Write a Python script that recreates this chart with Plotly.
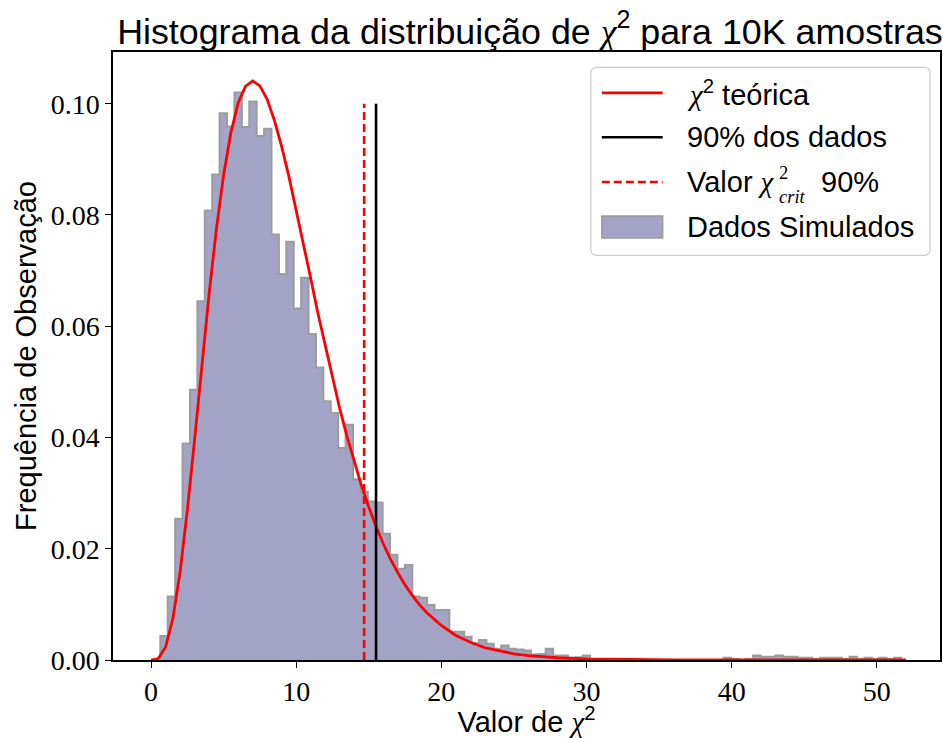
import plotly.graph_objects as go

# Simulated chi-square statistics: density-normalised histogram, 100 equal bins
bin_start = 0.64
bin_width = 0.5105
hist_density = [
    0.0043, 0.0114, 0.0254, 0.0389, 0.0486, 0.0645, 0.0808, 0.0873, 0.0983, 0.0959,
    0.1020, 0.0958, 0.1004, 0.0942, 0.0955, 0.0765, 0.0694, 0.0752, 0.0632, 0.0687,
    0.0586, 0.0526, 0.0465, 0.0444, 0.0381, 0.0423, 0.0325, 0.0302, 0.0285, 0.0283,
    0.0227, 0.0189, 0.0164, 0.0171, 0.0114, 0.0112, 0.0099, 0.0090, 0.0090, 0.0051,
    0.0051, 0.0042, 0.0030, 0.0036, 0.0029, 0.0020, 0.0026, 0.0020, 0.0019, 0.0017,
    0.0010, 0.0011, 0.0020, 0.0008, 0.0008, 0.0004, 0.0005, 0.0008, 0.0002, 0.0002,
    0.0000, 0.0002, 0.0000, 0.0000, 0.0000, 0.0000, 0.0000, 0.0000, 0.0000, 0.0000,
    0.0000, 0.0000, 0.0000, 0.0000, 0.0000, 0.0000, 0.0004, 0.0002, 0.0000, 0.0002,
    0.0008, 0.0006, 0.0006, 0.0008, 0.0006, 0.0006, 0.0004, 0.0004, 0.0002, 0.0004,
    0.0004, 0.0004, 0.0002, 0.0006, 0.0002, 0.0004, 0.0002, 0.0004, 0.0002, 0.0004,
]

# Theoretical chi-square density curve
curve_x = [0, 0.5, 1, 1.5, 2, 2.5, 3, 3.5, 4, 4.5, 5, 5.5, 6, 6.5, 7, 7.5, 8, 8.5, 9, 9.5,
           10, 10.5, 11, 11.5, 12, 12.5, 13, 13.5, 14, 14.5, 15, 15.5, 16, 16.5, 17, 17.5,
           18, 18.5, 19, 19.5, 20, 21, 22, 23, 24, 25, 26, 28, 30, 33, 36, 40, 45, 52]
curve_y = [0.0, 0.00026, 0.0023, 0.0074, 0.0158, 0.0269, 0.0396, 0.0530, 0.0658, 0.0774,
           0.0872, 0.0948, 0.1001, 0.1031, 0.1041, 0.1032, 0.1008, 0.0970, 0.0923, 0.0869,
           0.0810, 0.0748, 0.0686, 0.0623, 0.0564, 0.0506, 0.0452, 0.0402, 0.0356, 0.0313,
           0.0275, 0.0240, 0.0209, 0.0181, 0.0157, 0.0135, 0.0116, 0.0099, 0.0085, 0.0073,
           0.0062, 0.0044, 0.0032, 0.0022, 0.0016, 0.0011, 0.0008, 0.0004, 0.0002, 0.00005,
           0.00002, 0.0, 0.0, 0.0]

# Reference lines
crit_value = 14.68     # chi2 critical value at 90%
data_90 = 15.50        # 90th percentile of the simulated data
vline_top = 0.10

x_ticks = [0, 10, 20, 30, 40, 50]
y_ticks = [0.00, 0.02, 0.04, 0.06, 0.08, 0.10]

RED = "#ff0000"
FILL = "#a3a3c5"
EDGE = "#9c9c9c"
SANS = "Liberation Sans"
SERIF = "Liberation Serif"
CHI = "<span style=\"font-family:'Liberation Serif'\"><i>χ</i></span>"

# Step outline of the histogram (matplotlib "stepfilled" look)
edges = [bin_start + i * bin_width for i in range(len(hist_density) + 1)]
step_x = [edges[0]] + edges[:-1] + [edges[-1], edges[-1]]
step_y = [0.0] + hist_density + [hist_density[-1], 0.0]

fig = go.Figure()

fig.add_trace(go.Scatter(
    x=step_x, y=step_y, mode="lines", line=dict(shape="hv", color=EDGE, width=2),
    fill="tozeroy", fillcolor=FILL, name="Dados Simulados", hoverinfo="skip",
))
fig.add_trace(go.Scatter(
    x=curve_x, y=curve_y, mode="lines", line=dict(color=RED, width=2.8),
    name="χ² teórica",
))
fig.add_trace(go.Scatter(
    x=[data_90, data_90], y=[0, vline_top], mode="lines",
    line=dict(color="black", width=2.6), name="90% dos dados",
))
fig.add_trace(go.Scatter(
    x=[crit_value, crit_value], y=[0, vline_top], mode="lines",
    line=dict(color=RED, width=2.6, dash="8px,4px"), name="Valor χ²crit 90%",
))

# ---- legend box drawn in paper coordinates (plot area spans 113..942 x 52..662 px)
L, R, T, B = 113.0, 942.0, 52.0, 662.0


def px(xp):
    return (xp - L) / (R - L)


def py(yp):
    return (B - yp) / (B - T)


shapes = []
annotations = []

# rounded frame
x0, x1, y0, y1 = px(592), px(932), py(256), py(67.5)
rx, ry = 6 / (R - L), 6 / (B - T)
frame = (f"M {x0+rx},{y1} L {x1-rx},{y1} Q {x1},{y1} {x1},{y1-ry} "
         f"L {x1},{y0+ry} Q {x1},{y0} {x1-rx},{y0} L {x0+rx},{y0} "
         f"Q {x0},{y0} {x0},{y0+ry} L {x0},{y1-ry} Q {x0},{y1} {x0+rx},{y1} Z")
shapes.append(dict(type="path", path=frame, xref="paper", yref="paper",
                   line=dict(color="#cccccc", width=1.2),
                   fillcolor="rgba(255,255,255,0.8)", layer="above"))

sx0, sx1 = px(603), px(664)
rows = [93, 137.5, 182.5, 227.5]

shapes.append(dict(type="line", xref="paper", yref="paper", x0=sx0, x1=sx1,
                   y0=py(rows[0]), y1=py(rows[0]), line=dict(color=RED, width=2.8),
                   layer="above"))
shapes.append(dict(type="line", xref="paper", yref="paper", x0=sx0, x1=sx1,
                   y0=py(rows[1]), y1=py(rows[1]), line=dict(color="black", width=2.6),
                   layer="above"))
shapes.append(dict(type="line", xref="paper", yref="paper", x0=sx0, x1=sx1,
                   y0=py(rows[2]), y1=py(rows[2]),
                   line=dict(color=RED, width=2.6, dash="8px,4px"), layer="above"))
shapes.append(dict(type="rect", xref="paper", yref="paper", x0=sx0, x1=sx1,
                   y0=py(rows[3] + 11), y1=py(rows[3] - 11), fillcolor=FILL,
                   line=dict(color=EDGE, width=1.5), layer="above"))


def label(text, xp, yp, size=29, family=SANS):
    annotations.append(dict(text=text, x=px(xp), y=py(yp), xref="paper", yref="paper",
                            xanchor="left", yanchor="middle", showarrow=False,
                            align="left", borderpad=0,
                            font=dict(family=family, size=size, color="black")))


label(CHI + "<sup>2</sup> teórica", 687, rows[0])
label("90% dos dados", 687, rows[1])
label("Valor " + CHI, 687, rows[2])
# stacked super/subscript of the critical value symbol
label("2<br><i>crit</i>", 780, rows[2] + 3, size=18.5, family=SERIF)
label("90%", 822, rows[2])
label("Dados Simulados", 687, rows[3])

fig.update_layout(
    width=943, height=738,
    margin=dict(l=113, r=1, t=52, b=76),
    plot_bgcolor="white", paper_bgcolor="white",
    font=dict(family=SANS, size=29, color="black"),
    title=dict(
        text="Histograma da distribuição de " + CHI + "<sup>2</sup> para 10K amostras",
        x=0.562, xref="container", xanchor="center",
        y=0.958, yref="container", yanchor="middle",
        font=dict(family=SANS, size=35.8, color="black"),
    ),
    showlegend=False,
    shapes=shapes,
    annotations=annotations,
)

fig.update_xaxes(
    range=[-2.62, 54.35], tickvals=x_ticks, ticktext=[str(v) for v in x_ticks],
    showline=True, linecolor="black", linewidth=1.5, mirror=True,
    ticks="outside", ticklen=6, tickwidth=1.3, tickcolor="black",
    tickfont=dict(family=SERIF, size=28), showgrid=False, zeroline=False,
    title=dict(text="Valor de " + CHI + "<sup>2</sup>", standoff=9,
               font=dict(family=SANS, size=29)),
)
fig.update_yaxes(
    range=[0, 0.1093], tickvals=y_ticks, ticktext=[f"{v:.2f}" for v in y_ticks],
    showline=True, linecolor="black", linewidth=1.5, mirror=True,
    ticks="outside", ticklen=6, tickwidth=1.3, tickcolor="black",
    tickfont=dict(family=SERIF, size=28), showgrid=False, zeroline=False,
    title=dict(text="Frequência de Observação", standoff=6,
               font=dict(family=SANS, size=29)),
)

fig.write_html("out.html")
